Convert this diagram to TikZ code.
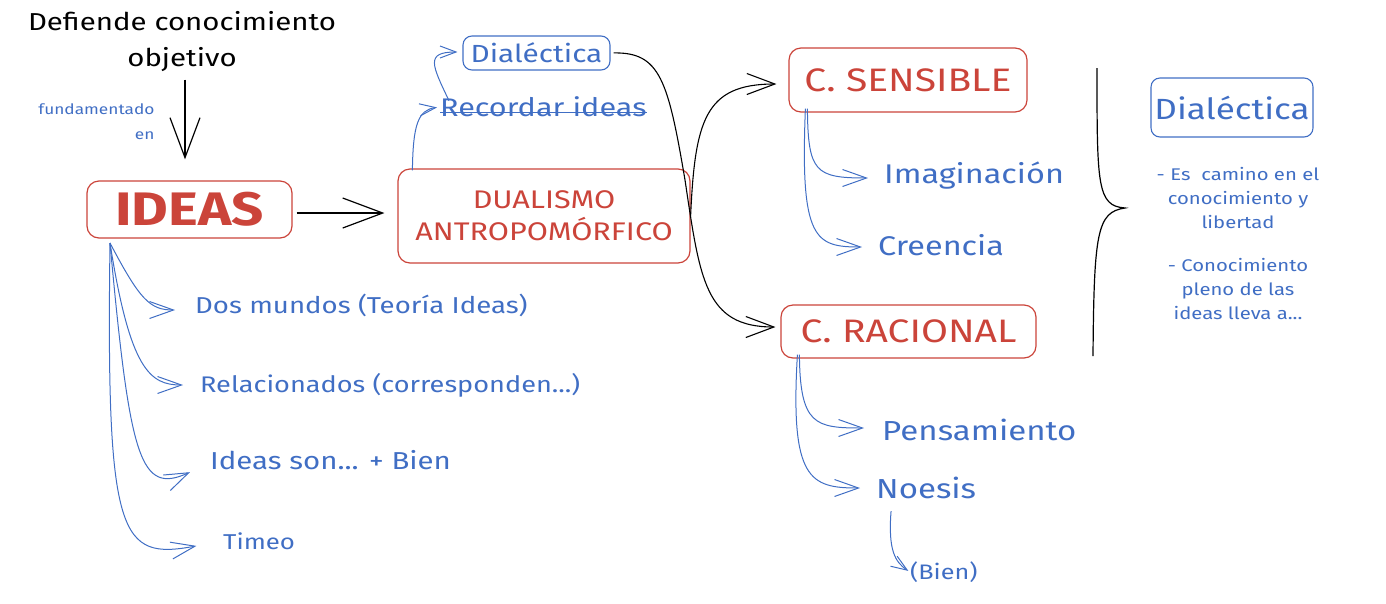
\documentclass[tikz,border=0pt]{standalone}
\usepackage{fontspec}
\setmainfont{Fira Sans}[FakeStretch=1.2]
\usetikzlibrary{arrows.meta}
\definecolor{sketchred}{RGB}{203,68,58}
\definecolor{sketchblue}{RGB}{64,110,196}
\tikzset{
	redbox/.style={draw=sketchred, text=sketchred, line width=1.2pt, rounded corners=12pt, inner sep=0pt},
	bluebox/.style={draw=sketchblue, text=sketchblue, line width=1.1pt, rounded corners=9pt, inner sep=0pt},
	lbl/.style={text=sketchblue, inner sep=0pt, anchor=west},
	bigbarb/.style={-{Straight Barb[length=40pt,width=30pt]}, line width=1.2pt},
	midbarb/.style={-{Straight Barb[length=28pt,width=21pt]}, line width=1.1pt},
	barb/.style={-{Straight Barb[length=24pt,width=17pt]}, line width=1pt, sketchblue},
	smallbarb/.style={-{Straight Barb[length=16pt,width=12pt]}, line width=1pt, sketchblue}
}
\begin{document}
\begin{tikzpicture}[x=1pt, y=-1pt]
	\useasboundingbox (0,0) rectangle (1386,603);
	
	% --- Cabecera ---
	\node[align=center, font=\fontsize{24.5}{36}\selectfont] (defiende) at (182,42) {Defiende conocimiento\\objetivo};
	\node[align=right, anchor=east, text=sketchblue, font=\fontsize{14.4}{25}\selectfont] (fundam) at (158,122) {fundamentado\\en};
	
	% --- Cajas rojas ---
	\node[redbox, minimum width=205pt, minimum height=57pt, font=\fontsize{47}{47}\bfseries] (ideas) at (189.5,209.5) {IDEAS};
	\node[redbox, minimum width=292pt, minimum height=94pt, align=center, font=\fontsize{25.5}{32}\selectfont] (dualismo) at (544,216) {DUALISMO\\ANTROPOMÓRFICO};
	\node[redbox, minimum width=238pt, minimum height=64pt, font=\fontsize{32.5}{32}\selectfont] (sensible) at (908,80) {C. SENSIBLE};
	\node[redbox, minimum width=255pt, minimum height=53pt, font=\fontsize{32.5}{32}\selectfont] (racional) at (908.5,331.5) {C. RACIONAL};
	
	% --- Cajas azules ---
	\node[bluebox, minimum width=147pt, minimum height=34pt, font=\fontsize{24.8}{24}\selectfont] (dialect) at (536.5,53) {Dialéctica};
	\node[bluebox, minimum width=162pt, minimum height=59pt, font=\fontsize{29.2}{30}\selectfont] (dialectb) at (1232,107.5) {Dialéctica};
	\node[lbl, font=\fontsize{25.5}{26}\selectfont] (recordar) at (440,107) {Recordar ideas};
	\draw[sketchblue, line width=1pt] ([yshift=5pt]recordar.south west) -- ([yshift=5pt]recordar.south east);
	
	% --- Etiquetas azules ---
	\node[lbl, font=\fontsize{23}{23}\selectfont] (dosm) at (195,305) {Dos mundos (Teoría Ideas)};
	\node[lbl, font=\fontsize{22.6}{23}\selectfont] (relac) at (200,385) {Relacionados (corresponden...)};
	\node[lbl, font=\fontsize{24.5}{23}\selectfont] (ideasson) at (210,460) {Ideas son... + Bien};
	\node[lbl, font=\fontsize{21.5}{21}\selectfont] (timeo) at (223,541) {Timeo};
	\node[lbl, font=\fontsize{27}{27}\selectfont] (imagin) at (884,176) {Imaginación};
	\node[lbl, font=\fontsize{27}{27}\selectfont] (creencia) at (878,245) {Creencia};
	\node[lbl, font=\fontsize{27.5}{27}\selectfont] (pensam) at (882,430) {Pensamiento};
	\node[lbl, font=\fontsize{27.5}{27}\selectfont] (noesis) at (876,488) {Noesis};
	\node[lbl, font=\fontsize{21}{21}\selectfont] (bien) at (910,572) {(Bien)};
	\node[text=sketchblue, align=center, font=\fontsize{16.9}{24}\selectfont] (notaa) at (1238,198) {- Es~~camino en el\\conocimiento y\\libertad};
	\node[text=sketchblue, align=center, font=\fontsize{16.9}{24}\selectfont] (notab) at (1238,289) {- Conocimiento\\pleno de las\\ideas lleva a...};
	
	% --- Flechas negras ---
	\draw[bigbarb, shorten <=4pt, shorten >=21pt] (defiende.south -| 185,0) -- (ideas.north -| 185,0);
	\draw[bigbarb, shorten <=4pt, shorten >=13pt] (ideas.east |- 0,213) -- (dualismo.west |- 0,213);
	\draw[midbarb, shorten <=3pt, shorten >=5pt] (dialect.east) .. controls (660,52) and (668,80) .. (685,180) .. controls (700,280) and (705,327) .. (racional.west |- 0,327);
	\draw[midbarb, shorten >=12pt] (dualismo.east) .. controls (695,120) and (705,84) .. (sensible.west |- 0,84);
	
	% --- Llave ---
	\draw[line width=1.2pt] (1097,68) .. controls (1097,185) and (1097,206) .. (1125,208) .. controls (1097,212) and (1094,232) .. (1093,356);
	
	% --- Flechas azules ---
	\draw[smallbarb, shorten >=3pt] ([xshift=15pt,yshift=-2pt]dualismo.north west) .. controls (413,125) and (418,110) .. (recordar.west);
	\draw[smallbarb, shorten >=5pt] ([xshift=9pt,yshift=-4pt]recordar.north west) .. controls (432,65) and (425,52) .. (dialect.west |- 0,52);
	\draw[barb, shorten >=16pt] ([xshift=19pt,yshift=4pt]sensible.south west) .. controls (808,172) and (815,178) .. (imagin.west |- 0,178);
	\draw[barb, shorten >=16pt] ([xshift=17pt,yshift=4pt]sensible.south west) .. controls (800,240) and (815,247) .. (creencia.west |- 0,247);
	\draw[barb, shorten >=18pt] ([xshift=19pt,yshift=4pt]racional.south west) .. controls (800,425) and (815,428) .. (pensam.west |- 0,428);
	\draw[barb, shorten >=16pt] ([xshift=17pt,yshift=4pt]racional.south west) .. controls (790,480) and (810,488) .. (noesis.west |- 0,488);
	\draw[smallbarb, shorten <=12pt, shorten >=2pt] (noesis.south -| 892,0) .. controls (888,550) and (895,562) .. (bien.west);
	
	% --- Abanico de IDEAS ---
	\coordinate (raiz) at (110,243);
	\draw[barb, shorten >=20pt] (raiz) .. controls (140,300) and (150,310) .. (dosm.west |- 0,310);
	\draw[barb, shorten >=17pt] (raiz) .. controls (130,370) and (150,385) .. (relac.west);
	\draw[barb, shorten >=22pt] (raiz) .. controls (130,460) and (140,495) .. (ideasson.west |- 0,463);
	\draw[barb, shorten >=27pt] (raiz) .. controls (106,540) and (120,560) .. (timeo.west);
\end{tikzpicture}
\end{document}
